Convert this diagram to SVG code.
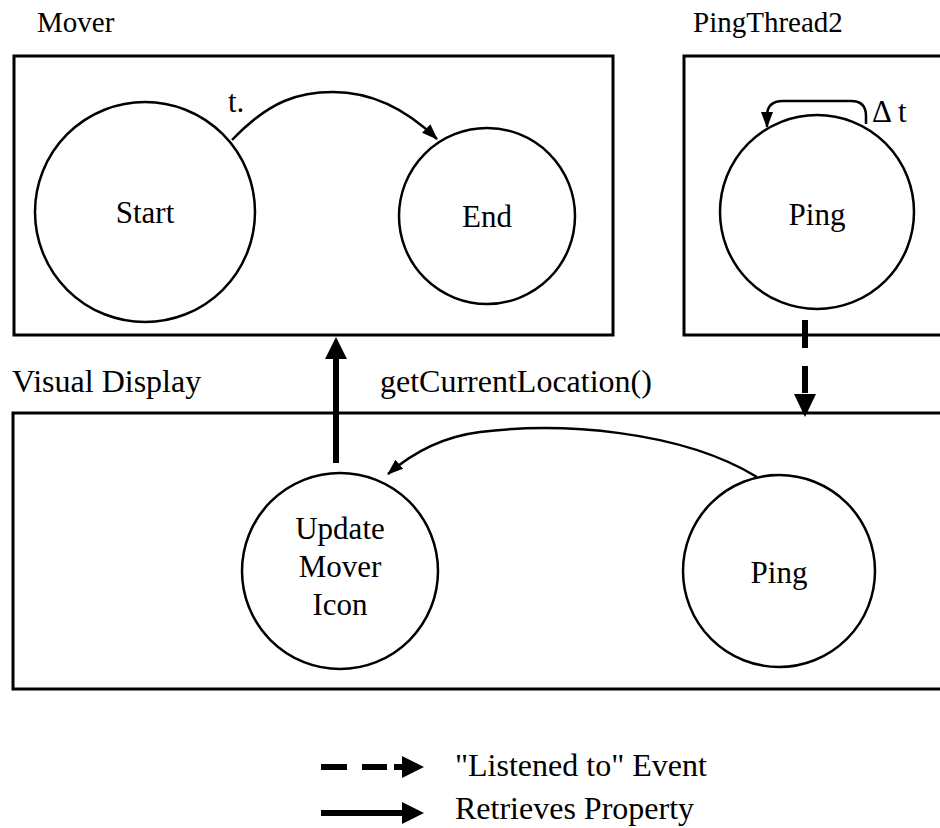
<svg xmlns="http://www.w3.org/2000/svg" width="940" height="828" viewBox="0 0 940 828">
  <style>
    .box { fill: none; stroke: #000; stroke-width: 3; }
    .state { fill: #fff; stroke: #000; stroke-width: 2.5; }
    .lbl { font-family: "Liberation Serif", "Times New Roman", serif; font-size: 31px; fill: #000; }
    .title { font-size: 29px; }
    .big { font-size: 32px; }
    .mid { text-anchor: middle; }
    .thin { fill: none; stroke: #000; stroke-width: 2.5; }
    .thick { fill: none; stroke: #000; stroke-width: 6; }
  </style>
  <defs>
    <marker id="ah" markerWidth="16" markerHeight="12" refX="15" refY="6" orient="auto" markerUnits="userSpaceOnUse">
      <path d="M0,0 L16,6 L0,12 Z" fill="#000"/>
    </marker>
  </defs>

  <rect width="940" height="828" fill="#fff"/>

  <!-- containers -->
  <g id="mover">
    <text class="lbl title" x="37" y="32">Mover</text>
    <rect class="box" x="14" y="56" width="599" height="279"/>
  </g>
  <g id="pingthread2">
    <text class="lbl title" x="693" y="32">PingThread2</text>
    <rect class="box" x="684" y="56" width="270" height="279"/>
  </g>
  <g id="visual-display">
    <text class="lbl big" x="12" y="392">Visual Display</text>
    <rect class="box" x="13" y="413" width="940" height="276"/>
  </g>

  <!-- states -->
  <g id="start">
    <circle class="state" cx="145" cy="212" r="110"/>
    <text class="lbl mid" x="145" y="223">Start</text>
  </g>
  <g id="end">
    <circle class="state" cx="487" cy="216" r="88"/>
    <text class="lbl mid" x="487" y="227">End</text>
  </g>
  <g id="ping-thread">
    <circle class="state" cx="817" cy="212" r="97"/>
    <text class="lbl mid" x="817" y="225">Ping</text>
  </g>
  <g id="update-mover-icon">
    <circle class="state" cx="340" cy="571" r="98"/>
    <text class="lbl mid" x="340" y="539">Update</text>
    <text class="lbl mid" x="340" y="577">Mover</text>
    <text class="lbl mid" x="340" y="615">Icon</text>
  </g>
  <g id="ping-display">
    <circle class="state" cx="779" cy="571" r="96"/>
    <text class="lbl mid" x="779" y="583">Ping</text>
  </g>

  <!-- connectors -->
  <g id="connectors">
    <path class="thin" d="M232,140 C270,100 300,92 333,92 C370,92 405,108 437,139" marker-end="url(#ah)"/>
    <text class="lbl" x="228" y="112">t.</text>

    <path class="thin" d="M866,124 L866,116 Q866,101 851,101 L783,101 Q767,101 767,116 L767,127" marker-end="url(#ah)"/>
    <text class="lbl" x="872" y="122">Δ t</text>

    <path class="thin" d="M757,477 C680,430 560,422 480,432 C440,437 410,455 388,474" marker-end="url(#ah)"/>

    <line class="thick" x1="336" y1="463" x2="336" y2="356"/>
    <path d="M325,359 L336,337 L347,359 Z" fill="#000"/>
    <text class="lbl big" x="380" y="392">getCurrentLocation()</text>

    <line class="thick" x1="805" y1="320" x2="805" y2="348"/>
    <line class="thick" x1="805" y1="366" x2="805" y2="393"/>
    <path d="M794,394 L805,417 L816,394 Z" fill="#000"/>
  </g>

  <!-- legend -->
  <g id="legend">
    <line class="thick" x1="321" y1="767" x2="347" y2="767"/>
    <line class="thick" x1="362" y1="767" x2="387" y2="767"/>
    <line class="thick" x1="394" y1="767" x2="404" y2="767"/>
    <path d="M402,756 L424,767 L402,778 Z" fill="#000"/>
    <text class="lbl big" x="455" y="776">"Listened to" Event</text>

    <line class="thick" x1="321" y1="813" x2="404" y2="813"/>
    <path d="M402,802 L424,813 L402,824 Z" fill="#000"/>
    <text class="lbl big" x="455" y="819">Retrieves Property</text>
  </g>
</svg>
